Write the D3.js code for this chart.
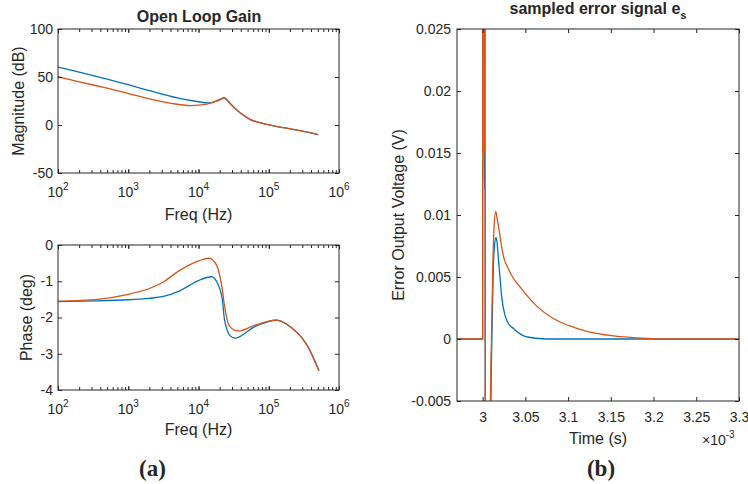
<!DOCTYPE html>
<html>
<head>
<meta charset="utf-8">
<script src="https://cdn.jsdelivr.net/npm/d3@7"></script>
<style>
body { margin: 0; background: #fff; }
svg text { font-family: "Liberation Sans", Arial, sans-serif; fill: #262626; }
</style>
</head>
<body>
<svg id="drawing_region" width="748" height="484"></svg>
<script>
// ---- data ----
const blue = '#0072BD';
const red = '#D95319';

// open loop gain magnitude (dB)
const magFreqBlue = [100, 200, 500, 1000, 2000, 5000, 10000, 14000, 18000, 21000, 23000, 25500, 28000, 35000, 54000, 70000, 93000, 162000, 295000, 507000];
const magBlue = [60.4, 55, 47.8, 42, 35.8, 28.2, 24.2, 23.0, 25.2, 27.2, 28.4, 26, 22.6, 15.6, 5.9, 3, 0.7, -2.8, -6.2, -10.1];
const magFreqRed = [100, 200, 500, 1000, 2000, 5000, 7600, 10000, 14000, 18000, 21000, 23000, 25500, 28000, 35000, 54000, 70000, 93000, 162000, 295000, 507000];
const magRed = [50.3, 45, 38.3, 32.8, 27.2, 21.6, 20.2, 20.6, 22.3, 24.8, 27.0, 28.4, 26, 22.6, 15.6, 5.9, 3, 0.7, -2.8, -6.2, -10.1];

// open loop gain phase
const phFreqBlue = [100, 370, 1000, 2000, 3160, 5200, 10000, 15800, 18000, 21300, 23800, 28000, 34200, 67000, 137000, 252000, 350000, 519000];
const phaseBlue = [-1.56, -1.54, -1.51, -1.47, -1.42, -1.28, -0.98, -0.88, -1.0, -1.38, -2.12, -2.50, -2.57, -2.23, -2.08, -2.41, -2.76, -3.47];
const phFreqRed = [100, 370, 1000, 2000, 3160, 5200, 10000, 14600, 18000, 21300, 23800, 28000, 36900, 67000, 137000, 252000, 350000, 519000];
const phaseRed = [-1.55, -1.50, -1.36, -1.20, -1.02, -0.72, -0.44, -0.37, -0.55, -1.10, -1.75, -2.25, -2.37, -2.20, -2.08, -2.41, -2.76, -3.47];

// sampled error signal (time in 1e-3 s)
const timeBlue = [2.97, 3.0, 3.0001, 3.0019, 3.0020, 3.0021, 3.0030, 3.0031, 3.0085, 3.0096, 3.0108, 3.0125, 3.0140, 3.0157, 3.0170, 3.0183, 3.0203, 3.0223, 3.0262, 3.0282, 3.0300, 3.0360, 3.0400, 3.0480, 3.0560, 3.0700, 3.0800, 3.3];
const errBlue = [0, 0, 0.04, 0.04, 0.0152, 0.012, 0.012, -0.03, -0.03, -0.006, 0, 0.0058, 0.0076, 0.0082, 0.0077, 0.0066, 0.0050, 0.0034, 0.0019, 0.00153, 0.00125, 0.00086, 0.0006, 0.00025, 0.00012, 0.00002, 0, 0];
const timeRed = [2.97, 3.0, 3.0001, 3.0018, 3.0019, 3.0022, 3.0030, 3.0031, 3.0080, 3.0090, 3.0103, 3.0118, 3.0135, 3.0153, 3.0170, 3.0190, 3.0223, 3.0254, 3.0282, 3.0350, 3.0437, 3.0633, 3.0827, 3.1020, 3.1256, 3.1530, 3.1920, 3.2200, 3.3];
const errRed = [0, 0, 0.04, 0.04, 0.015, 0.04, 0.04, -0.03, -0.03, -0.006, 0, 0.0056, 0.0092, 0.0103, 0.0097, 0.0089, 0.0074, 0.0064, 0.00595, 0.0050, 0.0042, 0.00265, 0.00165, 0.00105, 0.00055, 0.00025, 0.00005, 0, 0];

// ticks
const freqTicks = [1e2, 1e3, 1e4, 1e5, 1e6];
const magTicks = [-50, 0, 50, 100];
const phaseTicks = [-4, -3, -2, -1, 0];
const timeTicks = [3, 3.05, 3.1, 3.15, 3.2, 3.25, 3.3];
const errTicks = [-0.005, 0, 0.005, 0.01, 0.015, 0.02, 0.025];

const zip = (xs, ys) => xs.map((x, i) => ({x: x, y: ys[i]}));

class Panel {
    constructor(config, series) {
        this.config = config;
        this.series = series;
        this.init();
    }

    init() {
        let self = this;
        const c = self.config;
        self.svg = d3.select('#drawing_region');
        self.chart = self.svg.append('g')
            .attr('transform', `translate(${c.left}, ${c.top})`);

        self.xscale = (c.log ? d3.scaleLog() : d3.scaleLinear())
            .domain(c.xdomain)
            .range([0, c.width]);
        self.yscale = d3.scaleLinear()
            .domain(c.ydomain)
            .range([c.height, 0]);

        self.line = d3.line()
            .x(d => self.xscale(d.x))
            .y(d => self.yscale(d.y))
            .curve(c.curve || d3.curveMonotoneX);
    }

    render() {
        let self = this;
        const c = self.config;
        const fmt = d => String(d);

        // lines
        const clipId = 'clip' + c.left + '_' + c.top;
        self.chart.append('clipPath').attr('id', clipId)
            .append('rect').attr('width', c.width).attr('height', c.height);
        self.chart.append('g').attr('clip-path', `url(#${clipId})`)
            .selectAll('path')
            .data(self.series)
            .enter()
            .append('path')
            .attr('d', s => self.line(s.data))
            .attr('fill', 'none')
            .attr('stroke', s => s.color)
            .attr('stroke-width', 1.3);

        // axes (ticks point inward, box all round)
        const bottom = d3.axisBottom(self.xscale).tickValues(c.xticks)
            .tickSize(-4).tickSizeOuter(0).tickPadding(11)
            .tickFormat(c.log ? '' : fmt);
        const top = d3.axisTop(self.xscale).tickValues(c.xticks)
            .tickSize(-4).tickSizeOuter(0).tickFormat('');
        const left = d3.axisLeft(self.yscale).tickValues(c.yticks)
            .tickSize(-4).tickSizeOuter(0).tickPadding(c.ypad).tickFormat(fmt);
        const right = d3.axisRight(self.yscale).tickValues(c.yticks)
            .tickSize(-4).tickSizeOuter(0).tickFormat('');

        const groups = [
            self.chart.append('g').attr('transform', `translate(0, ${c.height})`).call(bottom),
            self.chart.append('g').call(top),
            self.chart.append('g').call(left),
            self.chart.append('g').attr('transform', `translate(${c.width}, 0)`).call(right)
        ];

        if (c.log) {
            const minor = self.xscale.ticks();
            groups.push(self.chart.append('g').attr('transform', `translate(0, ${c.height})`)
                .call(d3.axisBottom(self.xscale).tickValues(minor).tickSize(-3).tickSizeOuter(0).tickFormat('')));
            groups.push(self.chart.append('g')
                .call(d3.axisTop(self.xscale).tickValues(minor).tickSize(-3).tickSizeOuter(0).tickFormat('')));

            const lab = self.chart.selectAll('.loglabel')
                .data(c.xticks)
                .enter()
                .append('text')
                .attr('x', d => self.xscale(d))
                .attr('y', c.height + 23.5)
                .attr('text-anchor', 'middle')
                .attr('font-size', 14);
            lab.append('tspan').text('10');
            lab.append('tspan').attr('dy', -7).attr('font-size', 10)
                .text(d => Math.round(Math.log10(d)));
        }

        groups.forEach(g => {
            g.select('.domain').remove();
            g.selectAll('.tick line').attr('stroke', '#262626');
            g.selectAll('.tick text').attr('font-size', 14).attr('fill', '#262626')
                .attr('font-family', '"Liberation Sans", Arial, sans-serif');
        });

        self.chart.append('rect')
            .attr('width', c.width).attr('height', c.height)
            .attr('fill', 'none').attr('stroke', '#262626').attr('stroke-width', 1);

        // labels
        self.svg.append('text')
            .attr('transform', `translate(${c.ylabelX}, ${c.top + c.height / 2}) rotate(-90)`)
            .attr('text-anchor', 'middle').attr('font-size', 16)
            .text(c.ylabel);
        self.svg.append('text')
            .attr('x', c.left + c.width / 2).attr('y', c.xlabelY)
            .attr('text-anchor', 'middle').attr('font-size', 16)
            .text(c.xlabel);
    }
}

const svg = d3.select('#drawing_region');
const smooth = d3.curveCatmullRom.alpha(0.5);

const magPlot = new Panel({
    left: 58, top: 29, width: 281, height: 144, log: true, curve: smooth,
    xdomain: [1e2, 1e6], ydomain: [-50, 100], xticks: freqTicks, yticks: magTicks, ypad: 5,
    ylabel: 'Magnitude (dB)', ylabelX: 24, xlabel: 'Freq (Hz)', xlabelY: 220
}, [
    {color: blue, data: zip(magFreqBlue, magBlue)},
    {color: red, data: zip(magFreqRed, magRed)}
]);
magPlot.render();

const phasePlot = new Panel({
    left: 58, top: 245, width: 281, height: 145, log: true, curve: smooth,
    xdomain: [1e2, 1e6], ydomain: [-4, 0], xticks: freqTicks, yticks: phaseTicks, ypad: 5,
    ylabel: 'Phase (deg)', ylabelX: 32, xlabel: 'Freq (Hz)', xlabelY: 434.5
}, [
    {color: blue, data: zip(phFreqBlue, phaseBlue)},
    {color: red, data: zip(phFreqRed, phaseRed)}
]);
phasePlot.render();

const errPlot = new Panel({
    left: 457, top: 29, width: 282, height: 372, log: false,
    xdomain: [2.97, 3.3], ydomain: [-0.005, 0.025], xticks: timeTicks, yticks: errTicks, ypad: 6,
    ylabel: 'Error Output Voltage (V)', ylabelX: 404, xlabel: 'Time (s)', xlabelY: 444
}, [
    {color: blue, data: zip(timeBlue, errBlue)},
    {color: red, data: zip(timeRed, errRed)}
]);
errPlot.render();

// titles
svg.append('text').attr('x', 199).attr('y', 22)
    .attr('text-anchor', 'middle').attr('font-size', 16).attr('font-weight', 'bold')
    .text('Open Loop Gain');
const t2 = svg.append('text').attr('x', 598).attr('y', 14)
    .attr('text-anchor', 'middle').attr('font-size', 16).attr('font-weight', 'bold');
t2.append('tspan').text('sampled error signal e');
t2.append('tspan').attr('dy', 5).attr('font-size', 11).text('s');

// exponent of the time axis
const ex = svg.append('text').attr('x', 702).attr('y', 445).attr('font-size', 14);
ex.append('tspan').text('\u00d710');
ex.append('tspan').attr('dy', -7).attr('font-size', 10).text('-3');

// sub-figure captions
svg.selectAll('.caption')
    .data([{x: 152.5, t: '(a)'}, {x: 601, t: '(b)'}])
    .enter()
    .append('text')
    .attr('x', d => d.x).attr('y', 476)
    .attr('text-anchor', 'middle')
    .style('font-family', '"Liberation Serif", "DejaVu Serif", serif')
    .attr('font-size', 23).attr('font-weight', 'bold')
    .text(d => d.t);
</script>
</body>
</html>
